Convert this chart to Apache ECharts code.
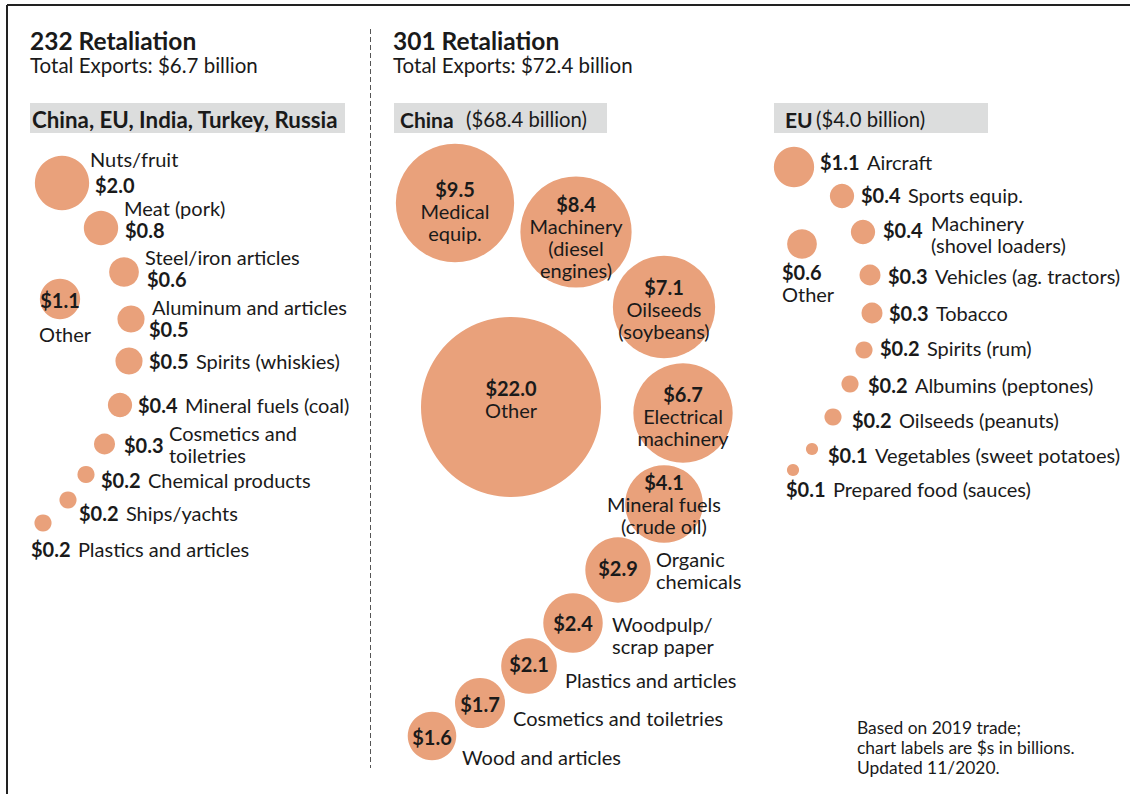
<!DOCTYPE html>
<html>
<head>
<meta charset="utf-8">
<script src="https://cdn.jsdelivr.net/npm/echarts@6/dist/echarts.min.js"></script>
<style>
html,body{margin:0;padding:0;background:#fff;}
#c{width:1130px;height:794px;}
</style>
</head>
<body>
<div id="c"></div>
<script>
// ---------------- data ----------------
const s232Names = ['Nuts/fruit','Meat (pork)','Steel/iron articles','Other','Aluminum and articles','Spirits (whiskies)','Mineral fuels (coal)','Cosmetics and\ntoiletries','Chemical products','Ships/yachts','Plastics and articles'];
const s232Values = [2.0,0.8,0.6,1.1,0.5,0.5,0.4,0.3,0.2,0.2,0.2];

const chinaNames = ['Medical\nequip.','Machinery\n(diesel\nengines)','Oilseeds\n(soybeans)','Other','Electrical\nmachinery','Mineral fuels\n(crude oil)','Organic\nchemicals','Woodpulp/\nscrap paper','Plastics and articles','Cosmetics and toiletries','Wood and articles'];
const chinaValues = [9.5,8.4,7.1,22.0,6.7,4.1,2.9,2.4,2.1,1.7,1.6];

const euNames = ['Aircraft','Sports equip.','Machinery\n(shovel loaders)','Other','Vehicles (ag. tractors)','Tobacco','Spirits (rum)','Albumins (peptones)','Oilseeds (peanuts)','Vegetables (sweet potatoes)','Prepared food (sauces)'];
const euValues = [1.1,0.4,0.4,0.6,0.3,0.3,0.2,0.2,0.2,0.1,0.1];

const headers = {
  t232: '232 Retaliation', sub232: 'Total Exports: $6.7 billion', box232: 'China, EU, India, Turkey, Russia',
  t301: '301 Retaliation', sub301: 'Total Exports: $72.4 billion',
  chinaBox: 'China', chinaTotal: '($68.4 billion)', euBox: 'EU', euTotal: '($4.0 billion)'
};
const footnote = ['Based on 2019 trade;', 'chart labels are $s in billions.', 'Updated 11/2020.'];

// ---------------- layout (bubble-packing positions, label anchors) ----------------
const layout232 = [
  {c:[62,183], mode:'split', v:[95,185,'left'], n:[90,159,'left']},
  {c:[101,228], mode:'split', v:[125,230,'left'], n:[124,208,'left']},
  {c:[124,272], mode:'split', v:[147,279,'left'], n:[145,257,'left']},
  {c:[60,299], mode:'split', v:[60,300,'center'], n:[65,334,'center']},
  {c:[131,319], mode:'split', v:[149,329,'left'], n:[152,307,'left']},
  {c:[129,361], mode:'inline', v:[149,361,'left']},
  {c:[120,405], mode:'inline', v:[138,405,'left']},
  {c:[104.5,444], mode:'split', v:[124,445,'left'], n:[169,444,'left']},
  {c:[86,474.5], mode:'inline', v:[101,480,'left']},
  {c:[68,500], mode:'inline', v:[79,513,'left']},
  {c:[43,523], mode:'inline', v:[31,549,'left']}
];
const layoutChina = [
  {c:[455,203], mode:'stack', v:[455,210.5,'center']},
  {c:[576,232], mode:'stack', v:[576,236.5,'center']},
  {c:[664,307], mode:'stack', v:[664,309,'center']},
  {c:[511,407], mode:'stack', v:[511,398.5,'center']},
  {c:[683,413], mode:'stack', v:[683,416,'center']},
  {c:[664,504], mode:'stack', v:[664,504,'center']},
  {c:[618,570], mode:'split', v:[618,568,'center'], n:[656,570,'left']},
  {c:[573,623], mode:'split', v:[573,623,'center'], n:[612,635,'left']},
  {c:[529,666], mode:'split', v:[529,664,'center'], n:[565,680,'left']},
  {c:[480,703], mode:'split', v:[480,704,'center'], n:[513,718,'left']},
  {c:[432,736], mode:'split', v:[432,737,'center'], n:[462,757,'left']}
];
const layoutEU = [
  {c:[794,167], mode:'inline', v:[820,162,'left']},
  {c:[842,196], mode:'inline', v:[861,195,'left']},
  {c:[863,232], mode:'split', v:[883,230,'left'], n:[931,234,'left']},
  {c:[802,244], mode:'stack', v:[782,283,'left']},
  {c:[870,275], mode:'inline', v:[888,276,'left']},
  {c:[872,313], mode:'inline', v:[889,313,'left']},
  {c:[864,350], mode:'inline', v:[880,348,'left']},
  {c:[850,384], mode:'inline', v:[868,385,'left']},
  {c:[833,417], mode:'inline', v:[852,420,'left']},
  {c:[812,449], mode:'inline', v:[828,455,'left']},
  {c:[793,470], mode:'inline', v:[786,489,'left']}
];

// ---------------- styles ----------------
const FONT = 'Lato, "Noto Sans", sans-serif';
const INK = '#1a1a1a';
const BUBBLE = '#E9A17B';
const RADIUS_PER_SQRT = 19.19; // radius in px per sqrt($bn) -> area proportional to value
const FS = 20;

function fmtVal(v){ return '$' + v.toFixed(1); }
function richFor(lh){
  return {
    val:{fontFamily:FONT,fontWeight:'bold',fontSize:FS,color:INK,lineHeight:lh,opacity:1},
    nm:{fontFamily:FONT,fontSize:FS,color:INK,lineHeight:lh,opacity:1},
    nmi:{fontFamily:FONT,fontSize:FS,color:INK,lineHeight:lh,padding:[0,0,0,4],opacity:1}
  };
}

function buildPanel(names, values, layout){
  const bubbles = [], labels = [];
  values.forEach((v,i)=>{
    const L = layout[i];
    const lh = L.lh || 22;
    let t;
    if (L.mode === 'inline') t = '{val|' + fmtVal(v) + '} {nmi|' + names[i] + '}';
    else if (L.mode === 'stack') t = '{val|' + fmtVal(v) + '}\n' + names[i].split('\n').map(s=>'{nm|'+s+'}').join('\n');
    else t = '{val|' + fmtVal(v) + '}';
    bubbles.push({
      value:[L.c[0], L.c[1], v],
      symbolSize: 2*RADIUS_PER_SQRT*Math.sqrt(v),
      txt: t,
      label:{offset:[L.v[0]-L.c[0], L.v[1]-L.c[1]], align:L.v[2], rich:richFor(lh)}
    });
    if (L.mode === 'split') {
      labels.push({
        value:[L.c[0], L.c[1], v],
        txt: names[i].split('\n').map(s=>'{nm|'+s+'}').join('\n'),
        label:{show:true, offset:[L.n[0]-L.c[0], L.n[1]-L.c[1]], align:L.n[2], rich:richFor(22)}
      });
    } else {
      labels.push({value:[L.c[0], L.c[1], v], txt:'', label:{show:false}});
    }
  });
  return [
    {type:'scatter', silent:true, data:bubbles, itemStyle:{color:BUBBLE, opacity:1},
     label:{show:true, position:'inside', verticalAlign:'middle', color:INK, opacity:1, formatter:p=>p.data.txt}},
    {type:'scatter', silent:true, data:labels, symbolSize:0, itemStyle:{color:INK, opacity:1},
     label:{position:'inside', verticalAlign:'middle', color:INK, opacity:1, textBorderWidth:0, formatter:p=>p.data.txt}}
  ];
}

function txt(text, x, y, opts){
  opts = opts || {};
  return {type:'text', silent:true, style:{text:text, x:x, y:y,
    font:(opts.weight||'normal') + ' ' + (opts.size||FS) + 'px ' + FONT,
    fill:INK, align:opts.align||'left', verticalAlign:'middle',
    textAlign:opts.align||'left', textVerticalAlign:'middle'}};
}

const graphics = [
  {type:'line', silent:true, shape:{x1:7, y1:5, x2:1130, y2:5}, style:{stroke:'#222', lineWidth:2}},
  {type:'line', silent:true, shape:{x1:7, y1:5, x2:7, y2:794}, style:{stroke:'#222', lineWidth:2}},
  {type:'line', silent:true, shape:{x1:370.5, y1:29, x2:370.5, y2:768}, style:{stroke:'#555', lineWidth:1, lineDash:[5,3]}},
  {type:'rect', silent:true, shape:{x:30, y:103, width:315, height:30}, style:{fill:'#dcdddd'}},
  {type:'rect', silent:true, shape:{x:394, y:103, width:213, height:30}, style:{fill:'#dcdddd'}},
  {type:'rect', silent:true, shape:{x:774, y:103, width:214, height:30}, style:{fill:'#dcdddd'}},
  txt(headers.t232, 30, 40, {weight:'bold', size:24.5}),
  txt(headers.sub232, 30, 65, {size:20.5}),
  txt(headers.box232, 32, 119, {weight:'bold', size:22.3}),
  txt(headers.t301, 393, 40, {weight:'bold', size:24.5}),
  txt(headers.sub301, 393, 65, {size:20.5}),
  txt(headers.chinaBox, 400, 119, {weight:'bold', size:21}),
  txt(headers.chinaTotal, 466, 119, {size:20.3}),
  txt(headers.euBox, 785, 119, {weight:'bold', size:21}),
  txt(headers.euTotal, 816, 119, {size:20.3}),
  txt(footnote[0], 857, 727, {size:17.4}),
  txt(footnote[1], 857, 747, {size:17.4}),
  txt(footnote[2], 857, 767, {size:17.4})
];

const chart = echarts.init(document.getElementById('c'), null, {renderer:'svg'});
chart.setOption({
  animation:false,
  backgroundColor:'#fff',
  grid:{left:0, right:0, top:0, bottom:0},
  xAxis:{type:'value', min:0, max:1130, show:false},
  yAxis:{type:'value', min:0, max:794, inverse:true, show:false},
  series:[].concat(
    buildPanel(s232Names, s232Values, layout232),
    buildPanel(chinaNames, chinaValues, layoutChina),
    buildPanel(euNames, euValues, layoutEU)
  ),
  graphic:graphics
});
</script>
</body>
</html>
